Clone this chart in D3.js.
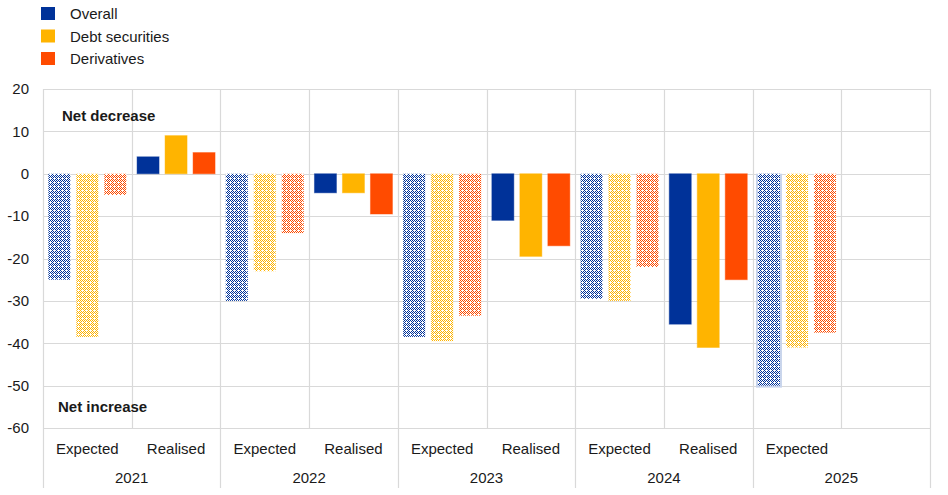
<!DOCTYPE html>
<html>
<head>
<meta charset="utf-8">
<script src="https://cdn.jsdelivr.net/npm/d3@7/dist/d3.min.js"></script>
<style>
  html, body { margin: 0; padding: 0; background: #fff; }
  svg { display: block; }
  text { font-family: "Liberation Sans", Arial, sans-serif; fill: #1a1a1a; }
</style>
</head>
<body>
<svg id="chart" width="948" height="495"></svg>
<script>
// ---- Data ----
const years = ["2021", "2022", "2023", "2024", "2025"];
const stageLabels = ["Expected", "Realised", "Expected", "Realised", "Expected", "Realised", "Expected", "Realised", "Expected", ""];
const yearOfSlot = ["2021", "2021", "2022", "2022", "2023", "2023", "2024", "2024", "2025", "2025"];
const seriesNames = ["Overall", "Debt securities", "Derivatives"];
const overall = [-25, 4, -30, -4.5, -38.5, -11, -29.5, -35.5, -50, null];
const debtSecurities = [-38.5, 9, -23, -4.5, -39.5, -19.5, -30, -41, -41, null];
const derivatives = [-5, 5, -14, -9.5, -33.5, -17, -22, -25, -37.5, null];
const yTicks = [20, 10, 0, -10, -20, -30, -40, -50, -60];

// ---- Styles ----
const colors = ["#003299", "#FFB400", "#FF4B00"];
const W = 948, H = 495;
const plot = { left: 43, right: 930, top: 89, bottom: 428 };
const gridColor = "#d9d9d9";

const svg = d3.select("#chart");

// patterns for "Expected" bars
const defs = svg.append("defs");
colors.forEach((c, i) => {
  const p = defs.append("pattern")
    .attr("id", "pat" + i)
    .attr("patternUnits", "userSpaceOnUse")
    .attr("width", 4).attr("height", 4);
  p.append("rect").attr("width", 4).attr("height", 4).attr("fill", "#fff");
  [[0,0],[2,0],[1,1],[3,1],[0,2],[3,3],[1,3]].forEach(([x, y]) => {
    p.append("rect").attr("x", x).attr("y", y).attr("width", 1).attr("height", 1).attr("fill", c);
  });
});

const slots = d3.range(stageLabels.length);
const x = d3.scaleBand().domain(slots).range([plot.left, plot.right]).padding(0);
const y = d3.scaleLinear().domain([-60, 20]).range([plot.bottom, plot.top]);
const xs = d3.scaleBand().domain(d3.range(seriesNames.length)).range([-39, 39]).paddingInner(6 / 28).paddingOuter(0);

// horizontal grid
svg.append("g").selectAll("line").data(yTicks).join("line")
  .attr("x1", plot.left).attr("x2", plot.right)
  .attr("y1", d => Math.round(y(d)) + 0.5).attr("y2", d => Math.round(y(d)) + 0.5)
  .attr("stroke", gridColor).attr("stroke-width", 1.2);

// vertical grid (slot boundaries); year separators extend below
const boundaries = d3.range(stageLabels.length + 1);
svg.append("g").selectAll("line").data(boundaries).join("line")
  .attr("x1", d => Math.round(plot.left + d * x.bandwidth()) + 0.5)
  .attr("x2", d => Math.round(plot.left + d * x.bandwidth()) + 0.5)
  .attr("y1", plot.top)
  .attr("y2", d => (d % 2 === 0) ? 488 : plot.bottom)
  .attr("stroke", gridColor).attr("stroke-width", 1.2);

// y axis labels
const yAxis = d3.axisLeft(y).tickValues(yTicks).tickSize(0).tickPadding(0).tickFormat(d => String(d));
const ya = svg.append("g").attr("transform", `translate(29,0)`).call(yAxis);
ya.select(".domain").remove();
ya.selectAll("text").attr("font-size", 15).attr("fill", "#1a1a1a")
  .attr("font-family", '"Liberation Sans", Arial, sans-serif');

// bars
const allSeries = [overall, debtSecurities, derivatives];
const barData = [];
allSeries.forEach((vals, si) => {
  vals.forEach((v, i) => {
    if (v === null) return;
    barData.push({ slot: i, series: si, value: v, expected: stageLabels[i] === "Expected" });
  });
});

const barsG = svg.append("g");
// light highlight behind 2025 overall expected bar
barsG.selectAll("rect.hl").data(barData.filter(d => d.slot === 8 && d.series === 0)).join("rect")
  .attr("class", "hl")
  .attr("x", d => x(d.slot) + x.bandwidth() / 2 + xs(d.series) - 2)
  .attr("width", xs.bandwidth() + 4)
  .attr("y", d => Math.min(y(0), y(d.value)))
  .attr("height", d => Math.abs(y(d.value) - y(0)) + 2)
  .attr("fill", "#c8d4ec");

barsG.selectAll("rect.bar").data(barData).join("rect")
  .attr("class", "bar")
  .attr("x", d => x(d.slot) + x.bandwidth() / 2 + xs(d.series))
  .attr("width", xs.bandwidth())
  .attr("y", d => Math.min(y(0), y(d.value)))
  .attr("height", d => Math.abs(y(d.value) - y(0)))
  .attr("fill", d => d.expected ? `url(#pat${d.series})` : colors[d.series])
  .attr("stroke", d => d.expected ? "none" : colors[d.series])
  .attr("stroke-opacity", 0.45)
  .attr("stroke-width", 1);

// x axis: stage labels
svg.append("g").selectAll("text").data(slots).join("text")
  .attr("x", d => x(d) + x.bandwidth() / 2)
  .attr("y", 454)
  .attr("text-anchor", "middle")
  .attr("font-size", 15)
  .text(d => stageLabels[d]);

// x axis: year labels
svg.append("g").selectAll("text").data(years).join("text")
  .attr("x", yr => {
    const idx = slots.filter(i => yearOfSlot[i] === yr);
    return (x(idx[0]) + x(idx[idx.length - 1]) + x.bandwidth()) / 2;
  })
  .attr("y", 483)
  .attr("text-anchor", "middle")
  .attr("font-size", 15)
  .text(d => d);

// annotations
svg.append("text").attr("x", 62).attr("y", 121).attr("font-size", 15).attr("font-weight", "bold").text("Net decrease");
svg.append("text").attr("x", 58).attr("y", 412).attr("font-size", 15).attr("font-weight", "bold").text("Net increase");

// legend
const leg = svg.append("g");
seriesNames.forEach((name, i) => {
  const yy = 7 + i * 22.5;
  leg.append("rect").attr("x", 41).attr("y", yy).attr("width", 14).attr("height", 13).attr("fill", colors[i]);
  leg.append("text").attr("x", 70).attr("y", yy + 12).attr("font-size", 15).text(name);
});
</script>
</body>
</html>
